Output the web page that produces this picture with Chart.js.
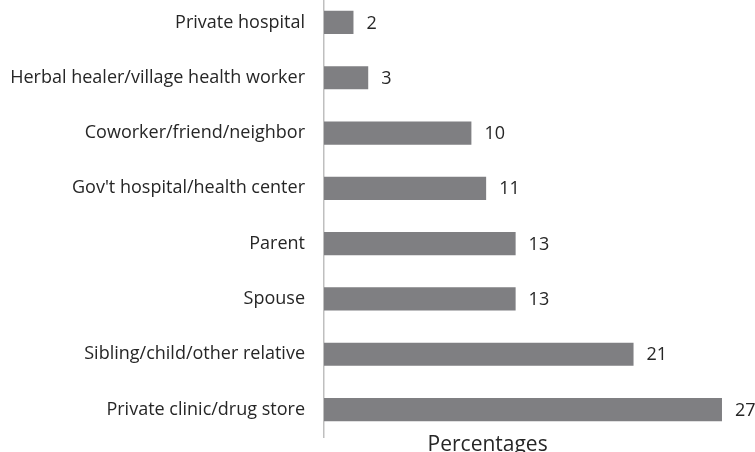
<!DOCTYPE html>
<html>
<head>
<meta charset="utf-8">
<script src="https://cdn.jsdelivr.net/npm/chart.js@4"></script>
<style>
  html, body { margin: 0; padding: 0; background: #fff; overflow: hidden; }
  #wrap { position: relative; width: 755px; height: 502px; margin-top: -35px; }
</style>
</head>
<body>
<div id="wrap"><canvas id="sourceChart"></canvas></div>
<script>
// ## SOURCES OF HEALTH ADVICE ##
const categories = [
  "Private hospital",
  "Herbal healer/village health worker",
  "Coworker/friend/neighbor",
  "Gov't hospital/health center",
  "Parent",
  "Spouse",
  "Sibling/child/other relative",
  "Private clinic/drug store",
];
const percentages = [2, 3, 10, 11, 13, 13, 21, 27];
const axisTitle = "Percentages";

const FONT = "'Open Sans', sans-serif";
const SHIFT = 35; // canvas is pulled up by this much

// value labels at the end of each bar
const valueLabels = {
  id: "valueLabels",
  afterDatasetsDraw(chart) {
    const ctx = chart.ctx;
    const meta = chart.getDatasetMeta(0);
    ctx.save();
    ctx.font = "18px " + FONT;
    ctx.fillStyle = "#262626";
    ctx.textAlign = "left";
    ctx.textBaseline = "middle";
    meta.data.forEach((bar, i) => {
      ctx.fillText(String(percentages[i]), bar.x + 13, bar.y + 1);
    });
    ctx.restore();
  },
};

// axis title sits under the plot, a bit left of the centre
const bottomTitle = {
  id: "bottomTitle",
  afterDraw(chart) {
    const ctx = chart.ctx;
    const xs = chart.scales.x;
    ctx.save();
    ctx.font = "21px " + FONT;
    ctx.fillStyle = "#262626";
    ctx.textAlign = "center";
    ctx.textBaseline = "alphabetic";
    ctx.fillText(axisTitle, xs.getPixelForValue(11.1), 451 + SHIFT);
    ctx.restore();
  },
};

const ctx = document.getElementById("sourceChart").getContext("2d");
window.sourceChart = new Chart(ctx, {
  type: "bar",
  data: {
    labels: categories,
    datasets: [
      {
        label: axisTitle,
        data: percentages,
        backgroundColor: "#7f7f82",
        borderWidth: 0,
        barPercentage: 0.42,
        categoryPercentage: 1,
      },
    ],
  },
  options: {
    indexAxis: "y",
    responsive: true,
    maintainAspectRatio: false,
    animation: false,
    layout: { padding: { top: 0, right: 0, bottom: 12, left: 0 } },
    plugins: {
      legend: { display: false },
      tooltip: { enabled: false },
    },
    scales: {
      x: {
        min: 0,
        max: 29.24,
        display: false,
      },
      y: {
        afterFit: (scale) => {
          scale.width = 324;
        },
        grid: { display: false, drawTicks: false },
        border: { display: true, color: "#bfbfbf", width: 1.5 },
        ticks: {
          color: "#262626",
          padding: 19,
          font: { family: FONT, size: 18 },
        },
      },
    },
  },
  plugins: [valueLabels, bottomTitle],
});
</script>
</body>
</html>
